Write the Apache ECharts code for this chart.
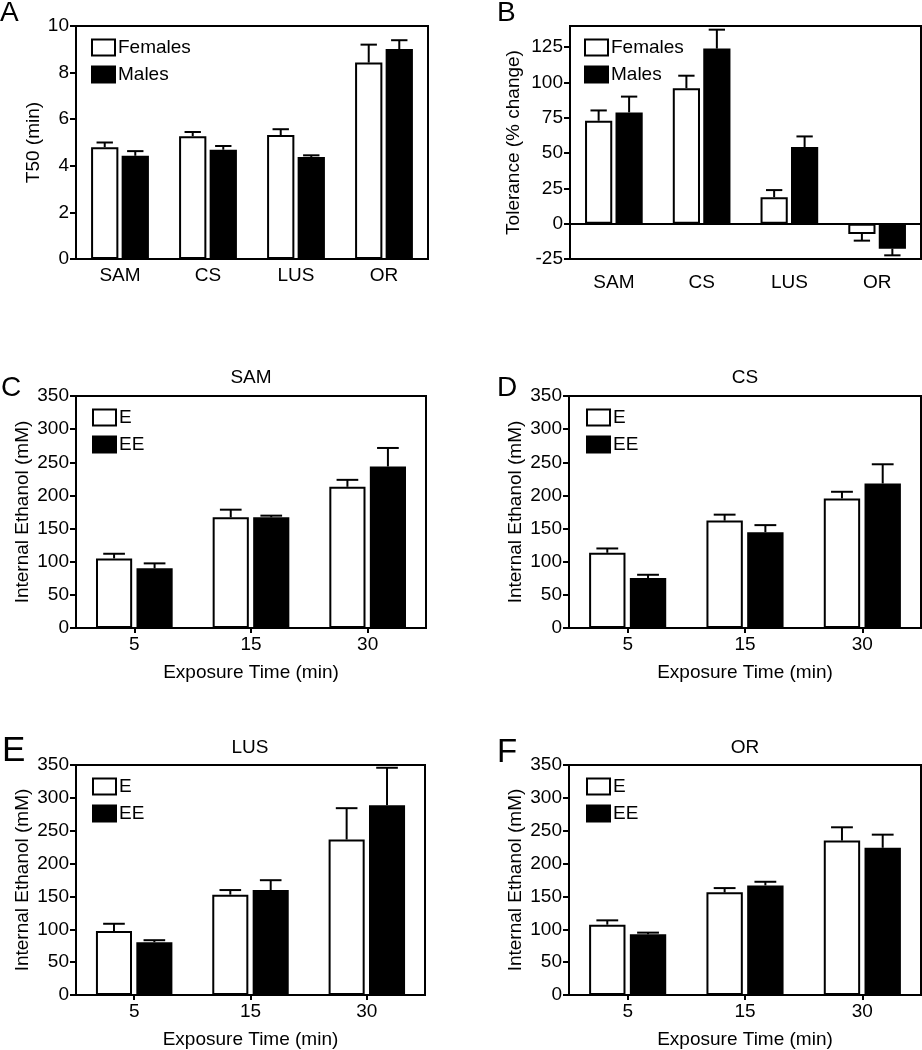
<!DOCTYPE html>
<html>
<head>
<meta charset="utf-8">
<script src="https://cdn.jsdelivr.net/npm/echarts@6/dist/echarts.min.js"></script>
<style>
html,body{margin:0;padding:0;background:#fff;}
#chart{width:922px;height:1050px;}
</style>
</head>
<body>
<div id="chart"></div>
<script>
// ---------- data ----------
const regions = ['SAM', 'CS', 'LUS', 'OR'];
const t50Females = [4.80, 5.27, 5.32, 8.43];
const t50FemalesErr = [0.20, 0.18, 0.25, 0.77];
const t50Males = [4.43, 4.69, 4.38, 9.01];
const t50MalesErr = [0.20, 0.16, 0.07, 0.38];
const tolFemales = [72.9, 96.0, 18.8, -7.3];
const tolFemalesErr = [7.3, 8.8, 5.0, 4.7];
const tolMales = [78.8, 124.0, 54.3, -17.7];
const tolMalesErr = [11.2, 13.4, 7.5, 4.7];
const t50Ticks = [0, 2, 4, 6, 8, 10];
const tolTicks = [-25, 0, 25, 50, 75, 100, 125];
const ethanolTicks = [0, 50, 100, 150, 200, 250, 300, 350];

const exposureTimes = ['5', '15', '30'];
const samE = [105, 167, 213];     const samEErr = [7, 11.5, 10.5];
const samEE = [90, 167, 243.6];   const samEEErr = [7.5, 2.5, 28];
const csE = [113.5, 162, 195.5];  const csEErr = [6.5, 9, 10];
const csEE = [75.3, 144.6, 218];  const csEEErr = [5, 10.6, 29];
const lusE = [97.4, 152.7, 236.6]; const lusEErr = [11, 7, 47.7];
const lusEE = [80.4, 159.7, 288.8]; const lusEEErr = [3, 15, 57];
const orE = [107, 156.2, 235];    const orEErr = [6.6, 6.5, 20.2];
const orEE = [92.4, 166.8, 224];  const orEEErr = [2.5, 5.5, 20];

// ---------- helpers ----------
const FONT = 'Liberation Sans, Arial, sans-serif';
const FS = 19;
const BW = 0.31, BG = 0.12;

function errSeries(idx, side, means, errs, name) {
  return {
    type: 'custom', name: name, xAxisIndex: idx, yAxisIndex: idx, z: 5, silent: true,
    data: means.map((m, i) => [i, m, errs[i]]),
    encode: { x: 0, y: 1 },
    renderItem: function (params, api) {
      const m = api.value(1), e = api.value(2);
      const base = api.coord([api.value(0), m]);
      const tip = api.coord([api.value(0), m + (m >= 0 ? e : -e)]);
      const band = api.size([1, 0])[0];
      const w = band * BW, g = w * BG;
      const cx = base[0] + (side === 0 ? -1 : 1) * (w + g) / 2;
      const half = w * 0.3;
      const st = { stroke: '#000', lineWidth: 2 };
      return { type: 'group', children: [
        { type: 'line', shape: { x1: cx, y1: base[1], x2: cx, y2: tip[1] }, style: st },
        { type: 'line', shape: { x1: cx - half, y1: tip[1], x2: cx + half, y2: tip[1] }, style: st }
      ]};
    }
  };
}
function barSeries(idx, name, values, white) {
  return {
    type: 'bar', name: name, xAxisIndex: idx, yAxisIndex: idx, data: values,
    barWidth: (BW * 100) + '%', barGap: (BG * 100) + '%',
    itemStyle: { color: white ? '#fff' : '#000', borderColor: '#000', borderWidth: 2 },
    emphasis: { disabled: true }
  };
}

const panels = [
  { grid: { left: 76, top: 26, width: 352, height: 233 }, cats: regions, names: ['Females', 'Males'],
    a: t50Females, ae: t50FemalesErr, b: t50Males, be: t50MalesErr,
    min: 0, max: 10, ticks: t50Ticks, yName: 'T50 (min)', yGap: 33, xName: '', xTicks: false, xMargin: 7,
    legend: { left: 86, top: 33 } },
  { grid: { left: 570, top: 26, width: 351, height: 233 }, cats: regions, names: ['Females', 'Males'],
    a: tolFemales, ae: tolFemalesErr, b: tolMales, be: tolMalesErr,
    min: -25, max: 140, ticks: tolTicks, yName: 'Tolerance (% change)', yGap: 47, xName: '', xTicks: false, xMargin: 14,
    zeroLine: true, legend: { left: 579, top: 33 } },
  { grid: { left: 76, top: 396, width: 350, height: 232 }, cats: exposureTimes, names: ['E', 'EE'],
    a: samE, ae: samEErr, b: samEE, be: samEEErr,
    min: 0, max: 350, ticks: ethanolTicks, yName: 'Internal Ethanol (mM)', yGap: 44, xName: 'Exposure Time (min)', xTicks: true, xMargin: 7,
    legend: { left: 87, top: 403 } },
  { grid: { left: 569, top: 396, width: 352, height: 232 }, cats: exposureTimes, names: ['E', 'EE'],
    a: csE, ae: csEErr, b: csEE, be: csEEErr,
    min: 0, max: 350, ticks: ethanolTicks, yName: 'Internal Ethanol (mM)', yGap: 44, xName: 'Exposure Time (min)', xTicks: true, xMargin: 7,
    legend: { left: 581, top: 403 } },
  { grid: { left: 76, top: 765, width: 349, height: 232 }, cats: exposureTimes, names: ['E', 'EE'],
    a: lusE, ae: lusEErr, b: lusEE, be: lusEEErr,
    min: 0, max: 350, ticks: ethanolTicks, yName: 'Internal Ethanol (mM)', yGap: 44, xName: 'Exposure Time (min)', xTicks: true, xMargin: 7,
    legend: { left: 87, top: 772 } },
  { grid: { left: 569, top: 765, width: 352, height: 232 }, cats: exposureTimes, names: ['E', 'EE'],
    a: orE, ae: orEErr, b: orEE, be: orEEErr,
    min: 0, max: 350, ticks: ethanolTicks, yName: 'Internal Ethanol (mM)', yGap: 44, xName: 'Exposure Time (min)', xTicks: true, xMargin: 7,
    legend: { left: 581, top: 772 } }
];

const grids = [], xAxes = [], yAxes = [], series = [], legends = [];
panels.forEach((p, i) => {
  grids.push(Object.assign({ show: true, borderColor: '#000', borderWidth: 2, backgroundColor: 'transparent' }, p.grid));
  xAxes.push({
    type: 'category', gridIndex: i, data: p.cats,
    axisLine: { show: !p.zeroLine, onZero: false, lineStyle: { color: '#000', width: 2 } },
    axisTick: { show: p.xTicks, alignWithLabel: true, length: 5, lineStyle: { color: '#000', width: 2 } },
    axisLabel: { color: '#000', fontSize: FS, fontFamily: FONT, margin: p.xMargin },
    name: p.xName, nameLocation: 'middle', nameGap: 35,
    nameTextStyle: { color: '#000', fontSize: FS, fontFamily: FONT }
  });
  yAxes.push({
    type: 'value', gridIndex: i, min: p.min, max: p.max,
    axisLine: { show: true, lineStyle: { color: '#000', width: 2 } },
    axisTick: { show: true, length: 6, customValues: p.ticks, lineStyle: { color: '#000', width: 2 } },
    axisLabel: { color: '#000', fontSize: FS, fontFamily: FONT, margin: 7, customValues: p.ticks },
    splitLine: { show: false },
    name: p.yName, nameLocation: 'middle', nameGap: p.yGap,
    nameTextStyle: { color: '#000', fontSize: FS, fontFamily: FONT }
  });
  const s1 = barSeries(i, p.names[0], p.a, true);
  if (p.zeroLine) {
    s1.markLine = { silent: true, symbol: ['none', 'none'], label: { show: false }, animation: false,
      lineStyle: { color: '#000', width: 2, type: 'solid' }, data: [{ yAxis: 0 }] };
  }
  series.push(s1, barSeries(i, p.names[1], p.b, false));
  series.push(errSeries(i, 0, p.a, p.ae, p.names[0] + ' SEM'), errSeries(i, 1, p.b, p.be, p.names[1] + ' SEM'));
  legends.push({
    left: p.legend.left, top: p.legend.top, orient: 'vertical', itemGap: 8,
    itemWidth: 23, itemHeight: 16, icon: 'rect', selectedMode: false,
    data: p.names, textStyle: { color: '#000', fontSize: FS, fontFamily: FONT, padding: [0, 0, 0, -2] }
  });
});

const letter = (t, x, y, size) => ({ type: 'text', x: x, y: y, silent: true,
  style: { text: t, fill: '#000', font: size + 'px ' + FONT, textVerticalAlign: 'top' } });
const title = (t, x, y) => ({ type: 'text', x: x, y: y, silent: true,
  style: { text: t, fill: '#000', font: FS + 'px ' + FONT, textAlign: 'center', textVerticalAlign: 'top' } });

const chart = echarts.init(document.getElementById('chart'), null, { renderer: 'canvas' });
chart.setOption({
  animation: false,
  backgroundColor: '#fff',
  grid: grids, xAxis: xAxes, yAxis: yAxes, series: series, legend: legends,
  graphic: [
    letter('A', 0, -1, 28), letter('B', 497, -1, 28),
    letter('C', 1, 374, 28), letter('D', 497, 374, 28),
    letter('E', 2, 734, 35), letter('F', 497, 736, 33),
    title('SAM', 251, 368), title('CS', 745, 368),
    title('LUS', 250, 738), title('OR', 745, 738)
  ]
});
</script>
</body>
</html>
